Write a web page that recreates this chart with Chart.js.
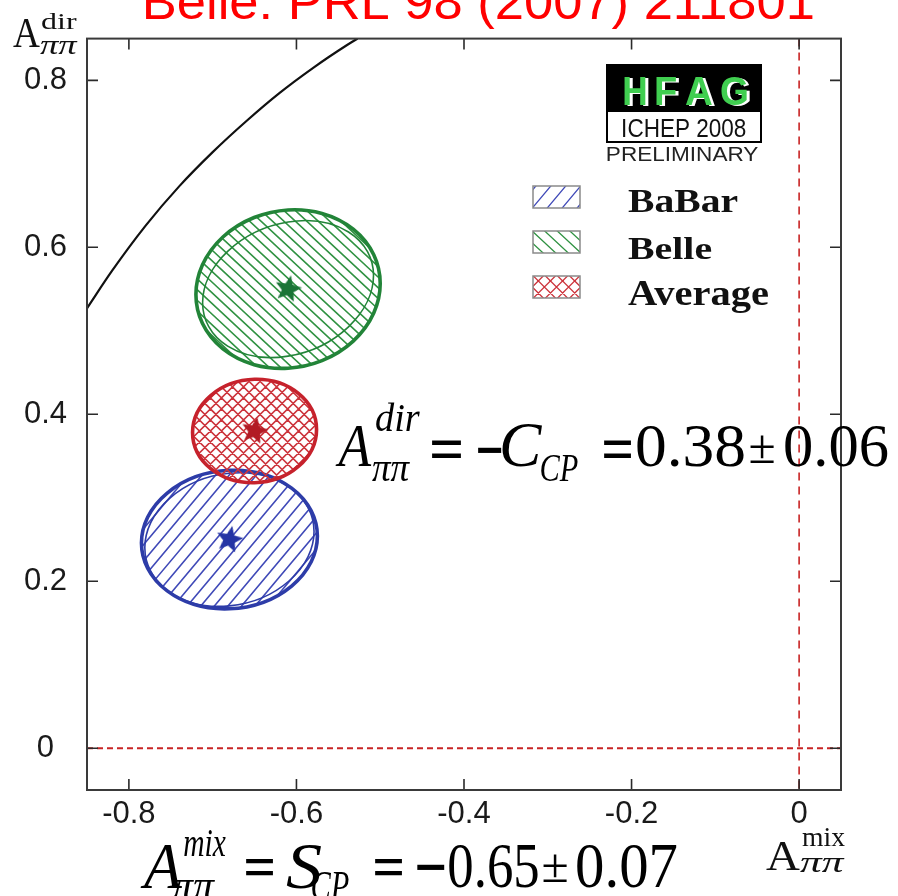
<!DOCTYPE html>
<html>
<head>
<meta charset="utf-8">
<title>B → ππ CP asymmetries</title>
<script src="https://cdn.jsdelivr.net/npm/chart.js@4.4.1/dist/chart.umd.min.js"></script>
<style>
  html, body { margin: 0; padding: 0; background: #fff; overflow: hidden; }
  #plot { display: block; }
</style>
</head>
<body>
<canvas id="plot" width="898" height="896"></canvas>
<script>
// ---------------- data ----------------
const experiments = ['BaBar', 'Belle', 'Average'];
const sCP  = [-0.68, -0.61, -0.65];        // A_mix = S_CP
const aDir = [0.25, 0.55, 0.38];           // A_dir = -C_CP
const sErr = [0.105, 0.110, 0.074];        // 1 sigma on S_CP
const aErr = [0.083, 0.095, 0.062];        // 1 sigma on A_dir
const corr = [0.05, 0.07, 0.03];           // S / A_dir correlation
// second (thin) contour drawn for the two experiments
const sErrThin = [0.101, 0.102, null];
const aErrThin = [0.080, 0.082, null];
const corrThin = [0.12, 0.20, null];

// physical boundary S^2 + C^2 = 1 (points along the arc)
const boundaryS = [-0.85, -0.82, -0.78, -0.74, -0.70, -0.66, -0.62, -0.58, -0.54, -0.527];
const boundaryA = [0.527, 0.572, 0.626, 0.673, 0.714, 0.751, 0.785, 0.815, 0.842, 0.850];

const xTickValues = [-0.8, -0.6, -0.4, -0.2, 0];
const xTickLabels = ['-0.8', '-0.6', '-0.4', '-0.2', '0'];
const yTickValues = [0, 0.2, 0.4, 0.6, 0.8];
const yTickLabels = ['0', '0.2', '0.4', '0.6', '0.8'];

// ---------------- styles ----------------
const outlineColor = ['rgb(45,60,168)', 'rgb(34,132,56)', 'rgb(198,34,44)'];
const hatchColor   = ['rgb(64,74,184)', 'rgb(48,146,66)', 'rgb(204,52,60)'];
const starColor    = ['rgb(36,52,164)', 'rgb(26,116,54)', 'rgb(178,26,36)'];
const hatchAngles  = [[50], [-43], [45, -45]];
const hatchGap     = [10.4, 7.8, 7.8];
const SERIF = '"Liberation Serif", "Times New Roman", serif';
const SANS  = '"Liberation Sans", Arial, Helvetica, sans-serif';

function starImage(color, R) {
  const c = document.createElement('canvas');
  const s = Math.ceil(2 * R + 4);
  c.width = s; c.height = s;
  const g = c.getContext('2d');
  g.translate(s / 2, s / 2);
  g.beginPath();
  for (let i = 0; i < 10; i++) {
    const r = i % 2 ? R * 0.45 : R;
    const a = -Math.PI / 2 + i * Math.PI / 5;
    g.lineTo(r * Math.cos(a), r * Math.sin(a));
  }
  g.closePath();
  g.fillStyle = color;
  g.fill();
  return c;
}

// ellipse of a correlated 2D measurement, built in pixel space through the scales
function ellipsePath(ctx, xs, ys, cx, cy, sx, sy, rho) {
  const px = xs.getPixelForValue(cx), py = ys.getPixelForValue(cy);
  const kx = xs.getPixelForValue(cx + sx) - px;
  const ky = ys.getPixelForValue(cy + sy) - py;
  ctx.save();
  ctx.transform(kx, rho * ky, 0, Math.sqrt(1 - rho * rho) * ky, px, py);
  ctx.beginPath();
  ctx.arc(0, 0, 1, 0, 2 * Math.PI);
  ctx.closePath();
  ctx.restore();
  return { px, py, r: Math.max(Math.abs(kx), Math.abs(ky)) };
}

function hatchLines(ctx, cx, cy, R, angleDeg, gap) {
  const a = angleDeg * Math.PI / 180;
  const dx = Math.cos(a), dy = -Math.sin(a);
  const nx = -dy, ny = dx;
  const n = Math.ceil(R / gap) + 1;
  for (let k = -n; k <= n; k++) {
    const px = cx + nx * k * gap, py = cy + ny * k * gap;
    ctx.moveTo(px - dx * R, py - dy * R);
    ctx.lineTo(px + dx * R, py + dy * R);
  }
}

// text whose ink is stretched into a given box
function inkBox(ctx, str, font, color, l, t, r, b) {
  ctx.save();
  ctx.font = font;
  ctx.fillStyle = color;
  ctx.textAlign = 'left';
  ctx.textBaseline = 'alphabetic';
  const m = ctx.measureText(str);
  const w = m.actualBoundingBoxLeft + m.actualBoundingBoxRight;
  const h = m.actualBoundingBoxAscent + m.actualBoundingBoxDescent;
  ctx.translate(l, t);
  ctx.scale((r - l) / w, (b - t) / h);
  ctx.fillText(str, m.actualBoundingBoxLeft, m.actualBoundingBoxAscent);
  ctx.restore();
}
// text with a given baseline whose ink spans [l, r]
function inkLine(ctx, str, font, color, l, r, baseline) {
  ctx.save();
  ctx.font = font;
  ctx.fillStyle = color;
  ctx.textAlign = 'left';
  ctx.textBaseline = 'alphabetic';
  const m = ctx.measureText(str);
  const w = m.actualBoundingBoxLeft + m.actualBoundingBoxRight;
  ctx.translate(l, baseline);
  ctx.scale((r - l) / w, 1);
  ctx.fillText(str, m.actualBoundingBoxLeft, 0);
  ctx.restore();
}

const it = s => 'italic ' + s + 'px ' + SERIF;
const rm = s => s + 'px ' + SERIF;
const bd = s => 'bold ' + s + 'px ' + SERIF;

// formula annotations: [text, font, left, top, right, bottom]
const formulaDir = [
  ['A', it(62), 335, 426, 372, 466],
  ['dir', it(38), 376, 403, 420, 431],
  ['ππ', it(40), 372, 462, 410, 481],
  ['=', bd(62), 432, 441, 461, 459],
  ['\u2212', bd(62), 478, 447, 502, 453],
  ['C', it(62), 502, 425, 542, 467],
  ['CP', it(40), 541, 455, 578, 481],
  ['=', bd(62), 604, 441, 631, 459],
  ['0.38', rm(62), 637, 426, 744, 467],
  ['\u00b1', rm(62), 750, 436, 774, 463],
  ['0.06', rm(62), 785, 426, 888, 467]
];
const formulaMix = [
  ['A', it(62), 140, 846, 183, 888],
  ['mix', it(38), 184, 830, 226, 856],
  ['ππ', it(40), 172, 880, 215, 899],
  ['=', bd(62), 246, 859, 273, 876],
  ['S', it(62), 286, 845, 321, 889],
  ['CP', it(40), 312, 872, 349, 900],
  ['=', bd(62), 375, 859, 402, 876],
  ['\u2212', bd(62), 417, 864, 445, 870],
  ['0.65', rm(62), 449, 846, 538, 888],
  ['\u00b1', rm(62), 543, 855, 567, 882],
  ['0.07', rm(62), 577, 846, 677, 888]
];

const decorations = {
  id: 'decorations',
  beforeDraw(chart) {
    const ctx = chart.ctx;
    ctx.save();
    ctx.fillStyle = '#fff';
    ctx.fillRect(0, 0, chart.width, chart.height);
    ctx.restore();
  },
  beforeDatasetsDraw(chart) {
    const ctx = chart.ctx, xs = chart.scales.x, ys = chart.scales.y, a = chart.chartArea;
    // zero lines
    ctx.save();
    ctx.strokeStyle = 'rgb(200,36,36)';
    ctx.lineWidth = 2;
    ctx.setLineDash([6, 4]);
    const y0 = ys.getPixelForValue(0), x0 = xs.getPixelForValue(0);
    ctx.beginPath(); ctx.moveTo(a.left, y0); ctx.lineTo(a.right, y0); ctx.stroke();
    ctx.lineWidth = 1.6;
    ctx.setLineDash([8, 6]);
    ctx.beginPath(); ctx.moveTo(x0, a.top); ctx.lineTo(x0, a.bottom); ctx.stroke();
    ctx.restore();

    // measurement ellipses
    experiments.forEach((name, i) => {
      ctx.save();
      const e = ellipsePath(ctx, xs, ys, sCP[i], aDir[i], sErr[i], aErr[i], corr[i]);
      ctx.clip();
      ctx.strokeStyle = hatchColor[i];
      ctx.lineWidth = 1.6;
      ctx.beginPath();
      hatchAngles[i].forEach(ang => hatchLines(ctx, e.px, e.py, e.r * 1.6, ang, hatchGap[i]));
      ctx.stroke();
      ctx.restore();

      ctx.save();
      ctx.strokeStyle = outlineColor[i];
      if (sErrThin[i] !== null) {
        ellipsePath(ctx, xs, ys, sCP[i], aDir[i], sErrThin[i], aErrThin[i], corrThin[i]);
        ctx.lineWidth = 1.6;
        ctx.stroke();
      }
      ellipsePath(ctx, xs, ys, sCP[i], aDir[i], sErr[i], aErr[i], corr[i]);
      ctx.lineWidth = 3.6;
      ctx.stroke();
      ctx.restore();
    });
  },
  afterDatasetsDraw(chart) {
    const ctx = chart.ctx, xs = chart.scales.x, ys = chart.scales.y, a = chart.chartArea;
    // frame with inward ticks on all sides
    ctx.save();
    ctx.strokeStyle = '#2a2a2a';
    ctx.lineWidth = 1.6;
    ctx.beginPath();
    xTickValues.forEach(v => {
      const p = xs.getPixelForValue(v);
      ctx.moveTo(p, a.bottom); ctx.lineTo(p, a.bottom - 11);
      ctx.moveTo(p, a.top); ctx.lineTo(p, a.top + 11);
    });
    yTickValues.forEach(v => {
      const p = ys.getPixelForValue(v);
      ctx.moveTo(a.left, p); ctx.lineTo(a.left + 11, p);
      ctx.moveTo(a.right, p); ctx.lineTo(a.right - 11, p);
    });
    ctx.stroke();
    ctx.strokeStyle = '#3a3a3a';
    ctx.lineWidth = 2;
    ctx.strokeRect(a.left, a.top, a.right - a.left, a.bottom - a.top);
    ctx.restore();

    // legend
    const boxTop = [186, 231, 276];
    const labelBox = [[628, 190, 738, 212], [628, 237, 712, 259], [628, 282, 769, 312]];
    experiments.forEach((name, i) => {
      const x = 533, y = boxTop[i], w = 47, h = 22;
      ctx.save();
      ctx.beginPath(); ctx.rect(x, y, w, h); ctx.clip();
      ctx.strokeStyle = hatchColor[i];
      ctx.lineWidth = 1.3;
      ctx.beginPath();
      hatchAngles[i].forEach(ang => hatchLines(ctx, x + w / 2, y + h / 2, w, ang, hatchGap[i] * 1.1));
      ctx.stroke();
      ctx.restore();
      ctx.save();
      ctx.strokeStyle = '#8a8a8a';
      ctx.lineWidth = 1.5;
      ctx.strokeRect(x, y, w, h);
      ctx.restore();
      const b = labelBox[i];
      inkBox(ctx, name, 'bold 34px ' + SERIF, '#111', b[0], b[1], b[2], b[3]);
    });

    // HFAG logo
    ctx.save();
    ctx.fillStyle = '#000';
    ctx.fillRect(606, 64, 156, 47);
    ctx.strokeStyle = '#000';
    ctx.lineWidth = 2;
    ctx.strokeRect(607, 111, 154, 31);
    ctx.restore();
    const logo = [['H', 624, 646], ['F', 656, 676], ['A', 686, 712], ['G', 721, 747]];
    logo.forEach(([ch, l, r]) => {
      inkBox(ctx, ch, 'bold 40px ' + SANS, '#ffffff', l + 3, 78, r + 3, 106);
      inkBox(ctx, ch, 'bold 40px ' + SANS, 'rgb(64,206,80)', l, 77, r, 105);
    });
    inkBox(ctx, 'ICHEP 2008', '24px ' + SANS, '#111', 623, 119, 746, 137);
    inkBox(ctx, 'PRELIMINARY', '20px ' + SANS, '#222', 607, 147, 758, 161);

    // formulas
    formulaDir.forEach(f => inkBox(ctx, f[0], f[1], '#000', f[2], f[3], f[4], f[5]));
    formulaMix.forEach(f => inkBox(ctx, f[0], f[1], '#000', f[2], f[3], f[4], f[5]));

    // axis titles
    inkBox(ctx, 'A', rm(40), '#111', 13, 20, 40, 47);
    inkBox(ctx, 'dir', rm(26), '#111', 41, 14, 77, 29);
    inkBox(ctx, 'ππ', it(26), '#111', 40, 41, 78, 54);
    inkBox(ctx, 'A', rm(40), '#111', 766, 842, 800, 870);
    inkBox(ctx, 'mix', rm(26), '#111', 802, 828, 845, 846);
    inkBox(ctx, 'ππ', it(26), '#111', 800, 858, 845, 872);

    // reference
    inkLine(ctx, 'Belle: PRL 98 (2007) 211801', '50px ' + SANS, '#ff0000', 146, 813, 19);
  }
};

const stars = starColor.map(c => starImage(c, 14));

new Chart(document.getElementById('plot'), {
  type: 'scatter',
  data: {
    datasets: [
      {
        label: 'central values',
        data: sCP.map((s, i) => ({ x: s, y: aDir[i] })),
        pointStyle: stars,
        pointRadius: 14,
        pointRotation: 12,
        showLine: false
      },
      {
        label: 'physical boundary',
        data: boundaryS.map((s, i) => ({ x: s, y: boundaryA[i] })),
        showLine: true,
        borderColor: '#111',
        borderWidth: 2.2,
        pointRadius: 0,
        cubicInterpolationMode: 'monotone',
        fill: false
      }
    ]
  },
  options: {
    responsive: false,
    animation: false,
    devicePixelRatio: 1,
    events: [],
    layout: { padding: { left: 0, top: 38, right: 57, bottom: 0 } },
    plugins: {
      legend: { display: false },
      tooltip: { enabled: false },
      title: { display: false }
    },
    scales: {
      x: {
        type: 'linear',
        position: 'bottom',
        min: -0.85,
        max: 0.05,
        afterBuildTicks: s => { s.ticks = xTickValues.map(v => ({ value: v })); },
        afterFit: s => { s.height = 106; },
        grid: { display: false, drawTicks: false },
        border: { display: false },
        ticks: {
          padding: 6,
          maxRotation: 0,
          autoSkip: false,
          color: '#1a1a1a',
          font: { family: SANS, size: 31 },
          callback: (v, i) => xTickLabels[i]
        }
      },
      y: {
        type: 'linear',
        position: 'left',
        min: -0.05,
        max: 0.85,
        afterBuildTicks: s => { s.ticks = yTickValues.map(v => ({ value: v })); },
        afterFit: s => { s.width = 87; },
        grid: { display: false, drawTicks: false },
        border: { display: false },
        ticks: {
          padding: 20,
          crossAlign: 'center',
          color: '#1a1a1a',
          font: { family: SANS, size: 31 },
          callback: (v, i) => yTickLabels[i]
        }
      }
    }
  },
  plugins: [decorations]
});
</script>
</body>
</html>
